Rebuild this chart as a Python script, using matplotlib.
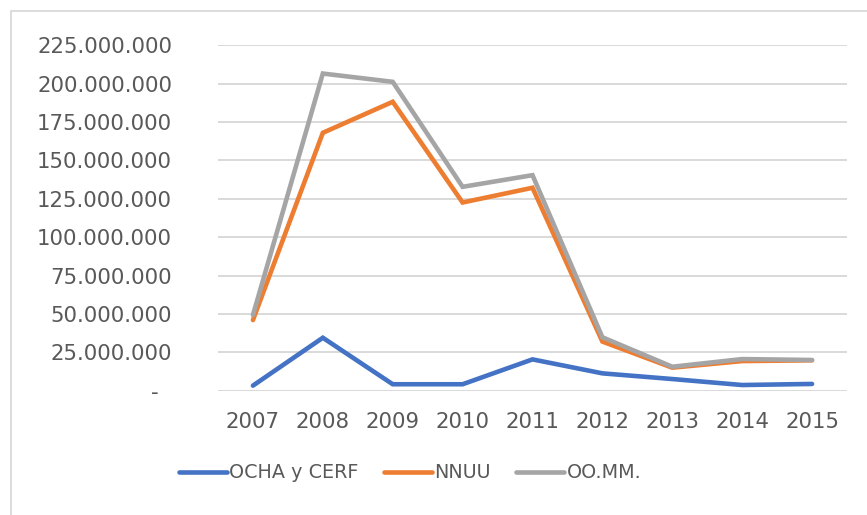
import matplotlib
matplotlib.use("Agg")
import matplotlib.pyplot as plt
from matplotlib.patches import Rectangle
from matplotlib.ticker import FuncFormatter

years = ["2007", "2008", "2009", "2010", "2011", "2012", "2013", "2014", "2015"]
ocha_cerf = [3.3e6, 34.5e6, 4.2e6, 4.2e6, 20.4e6, 11.3e6, 7.6e6, 3.7e6, 4.4e6]
nnuu = [46.0e6, 168.0e6, 188.2e6, 122.6e6, 132.2e6, 32.0e6, 15.0e6, 19.3e6, 19.8e6]
oomm = [49.3e6, 206.6e6, 201.2e6, 132.8e6, 140.4e6, 34.8e6, 15.6e6, 20.6e6, 20.0e6]

series_names = ["OCHA y CERF", "NNUU", "OO.MM."]
colors = ["#4472C4", "#ED7D31", "#A5A5A5"]

text_col = "#595959"
plt.rcParams["font.family"] = "DejaVu Sans"

fig = plt.figure(figsize=(8.67, 5.15), dpi=100)
ax = fig.add_axes([218 / 867, 1 - 390.7 / 515, 629 / 867, 345.4 / 515])

x = list(range(len(years)))
for vals, name, c in zip([ocha_cerf, nnuu, oomm], series_names, colors):
    ax.plot(x, vals, color=c, lw=3.3, label=name, solid_capstyle="round",
            solid_joinstyle="miter")

ax.set_xlim(-0.5, len(years) - 0.5)
ax.set_ylim(0, 225e6)
ax.set_yticks([i * 25e6 for i in range(10)])


def fmt(v, pos):
    if v == 0:
        return "-  "
    return f"{int(v):,}".replace(",", ".")


ax.yaxis.set_major_formatter(FuncFormatter(fmt))
ax.set_xticks(x)
ax.set_xticklabels(years)
ax.tick_params(axis="both", length=0, labelsize=15.3, colors=text_col)
ax.tick_params(axis="y", pad=33)
ax.tick_params(axis="x", pad=15)
ax.grid(axis="y", color="#D9D9D9", lw=1.4)
ax.set_axisbelow(True)
for s in ax.spines.values():
    s.set_visible(False)

leg = fig.legend(loc="center", bbox_to_anchor=(410 / 867, 1 - 473 / 515), ncol=3,
                 frameon=False, fontsize=13.8, handlelength=2.5,
                 handletextpad=0.15, columnspacing=1.3)
for t in leg.get_texts():
    t.set_color(text_col)
for h in leg.get_lines():
    h.set_linewidth(3.3)

fig.patches.append(Rectangle((11 / 867, -0.1), 1.2, 1 - 11 / 515 + 0.1,
                             transform=fig.transFigure, fill=False,
                             edgecolor="#D9D9D9", lw=1.3))

fig.savefig("out.png", dpi=100)
